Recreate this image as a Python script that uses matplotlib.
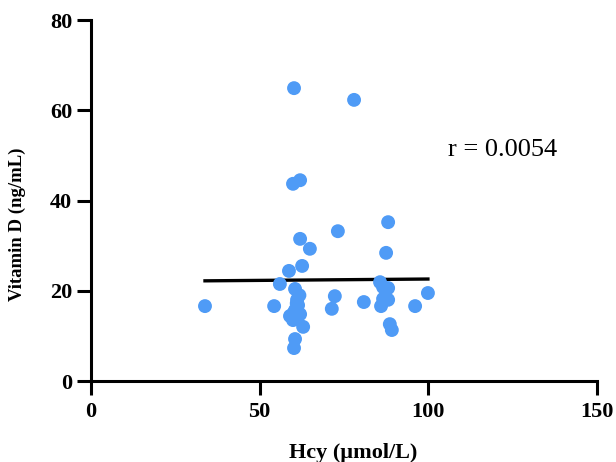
import numpy as np
import matplotlib.pyplot as plt

# Hcy (umol/L) vs Vitamin D (ng/mL)
hcy = [33.8, 60.2, 78.0, 59.9, 62.0, 62.0, 64.9, 73.2, 88.1, 87.5,
       58.7, 62.6, 56.0, 60.5, 54.3, 61.1, 61.4, 60.5, 59.0, 59.9,
       62.0, 62.9, 60.5, 60.2, 72.3, 71.4, 80.9, 85.7, 86.6, 88.1,
       86.6, 88.1, 86.0, 88.6, 89.2, 96.1, 99.9, 61.0, 60.0, 61.8]
vitd = [16.6, 64.9, 62.3, 43.7, 44.5, 31.5, 29.3, 33.2, 35.2, 28.4,
        24.4, 25.5, 21.5, 20.4, 16.6, 18.0, 16.8, 15.7, 14.4, 13.5,
        14.8, 12.0, 9.3, 7.3, 18.8, 16.0, 17.5, 21.9, 20.8, 20.6,
        18.2, 18.0, 16.6, 12.6, 11.3, 16.6, 19.5, 17.2, 15.0, 19.0]

# regression line end points
fit_x = [33.8, 99.9]
fit_y = [22.2, 22.6]

plt.rcParams['font.family'] = 'Liberation Serif'

fig = plt.figure(figsize=(6.16, 4.62), dpi=100)
ax = fig.add_axes([0.1477, 0.1753, 0.8213, 0.7814])

ax.scatter(hcy, vitd, s=100, color='#4f9bf6', edgecolors='none', zorder=3)
ax.plot(fit_x, fit_y, color='black', lw=2.4, zorder=2)

ax.set_xlim(0, 150)
ax.set_ylim(0, 80)
ax.set_xticks([0, 50, 100, 150])
ax.set_yticks([0, 20, 40, 60, 80])

for s in ['top', 'right']:
    ax.spines[s].set_visible(False)
for s in ['left', 'bottom']:
    ax.spines[s].set_linewidth(2.2)
ax.tick_params(length=10, width=2.2, labelsize=16)
ax.tick_params(axis='x', pad=5)
ax.tick_params(axis='y', pad=3.5)
for lab in ax.get_xticklabels() + ax.get_yticklabels():
    lab.set_fontweight('bold')

ax.set_xlabel('Hcy (µmol/L)', fontsize=16, fontweight='bold')
ax.set_ylabel('Vitamin D (ng/mL)', fontsize=13.5, fontweight='bold')
ax.xaxis.set_label_coords(0.518, -0.172)
ax.yaxis.set_label_coords(-0.128, 0.435)

ax.text(105.8, 51.2, 'r = 0.0054', fontsize=19, va='center', ha='left')

fig.savefig('out.png', dpi=100)
